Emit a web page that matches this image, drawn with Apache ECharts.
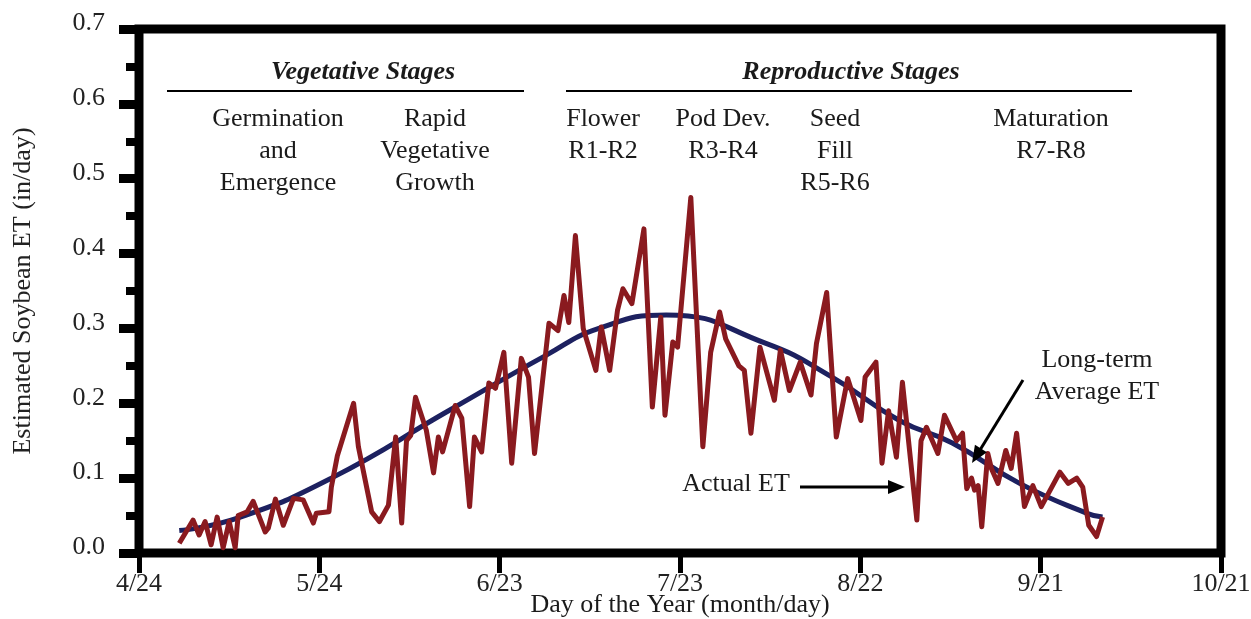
<!DOCTYPE html>
<html>
<head>
<meta charset="utf-8">
<script src="https://cdn.jsdelivr.net/npm/echarts@6/dist/echarts.min.js"></script>
<style>
  html, body { margin: 0; padding: 0; background: #fff; }
  #chart { width: 1251px; height: 619px; }
</style>
</head>
<body>
<div id="chart"></div>
<script>
// x values are days counted from 4/24
let xTickLabels = ['4/24', '5/24', '6/23', '7/23', '8/22', '9/21', '10/21'];

// long-term average ET (in/day)
let avgDays = [6.7, 16.5, 32, 51.5, 67.7, 76.5, 87.7, 104.3, 115.3, 126.5, 135.3, 146.5, 157.7, 160.3];
let avgET   = [0.03, 0.047, 0.10, 0.19, 0.264, 0.30, 0.318, 0.28, 0.235, 0.177, 0.147, 0.093, 0.053, 0.048];

// actual daily ET (in/day)
let actualDays = [
    6.7, 9, 10, 11, 12, 13, 14, 15, 16, 16.5, 18, 19, 21, 21.5, 22.7, 24, 25.7, 27.3, 29, 29.5,
    31.6, 32, 33, 35.7, 36.5, 38.7, 40, 41.5, 42.7, 43.7, 44.5, 45.2, 46, 47.8, 49, 49.8, 50.5,
    52.6, 53.7, 55, 55.8, 57, 58.2, 59.3, 60.7, 62, 63.6, 64.8, 65.8, 68.2, 69.7, 70.7, 71.5,
    72.6, 73.9, 76, 76.9, 78.3, 79.6, 80.5, 82, 84, 85.4, 86.8, 87.5, 88.8, 89.6, 91.8, 93.8,
    95.1, 96.6, 97.6, 99.8, 100.7, 101.8, 103.3, 105.7, 106.7, 108.2, 110, 111.8, 112.7, 114.4,
    116, 117.9, 120.1, 120.8, 122.6, 123.6, 124.7, 126, 127, 129.4, 130.1, 131, 132.9, 134, 136,
    137, 137.7, 138.5, 139, 139.6, 140.2, 141.2, 141.8, 142.9, 144.2, 145.1, 146, 147.3, 148.7,
    150.1, 153.2, 154.6, 156, 157, 158, 159.3, 160.3
];
let actualET = [
    0.013, 0.044, 0.024, 0.042, 0.011, 0.048, 0.007, 0.042, 0.007, 0.05, 0.055, 0.069, 0.028, 0.033, 0.072, 0.037, 0.073, 0.071, 0.04, 0.053,
    0.055, 0.088, 0.13, 0.20, 0.142, 0.055, 0.042, 0.064, 0.155, 0.04, 0.15, 0.157, 0.208, 0.164, 0.107, 0.155, 0.135,
    0.197, 0.18, 0.062, 0.155, 0.135, 0.227, 0.22, 0.268, 0.12, 0.26, 0.235, 0.133, 0.307, 0.297, 0.344, 0.308,
    0.424, 0.30, 0.244, 0.302, 0.244, 0.324, 0.353, 0.333, 0.433, 0.195, 0.315, 0.184, 0.282, 0.275, 0.475, 0.142,
    0.268, 0.322, 0.286, 0.25, 0.244, 0.16, 0.275, 0.204, 0.271, 0.217, 0.255, 0.211, 0.28, 0.348,
    0.155, 0.233, 0.177, 0.235, 0.255, 0.12, 0.19, 0.128, 0.228, 0.044, 0.15, 0.168, 0.133, 0.184, 0.15,
    0.16, 0.086, 0.10, 0.084, 0.09, 0.035, 0.133, 0.113, 0.093, 0.137, 0.113, 0.16, 0.062, 0.09,
    0.062, 0.108, 0.093, 0.10, 0.088, 0.037, 0.022, 0.048
];

let serif = '"Liberation Serif", "Times New Roman", serif';

function pairs(xs, ys) {
    let res = [];
    for (let i = 0; i < xs.length; i++) {
        res.push([xs[i], ys[i]]);
    }
    return res;
}

function label(x, y, text, extra) {
    let style = {
        text: text,
        x: x,
        y: y,
        fill: '#1a1a1a',
        font: '26px ' + serif,
        align: 'center',
        verticalAlign: 'top',
        lineHeight: 32
    };
    return {type: 'text', z: 10, style: Object.assign(style, extra || {})};
}

function line(x1, y1, x2, y2, w) {
    return {type: 'line', z: 10, shape: {x1: x1, y1: y1, x2: x2, y2: y2},
            style: {stroke: '#000', lineWidth: w}};
}

function arrowHead(x, y, angle) {
    // small filled triangle pointing along angle (radians)
    let len = 17, half = 7;
    let bx = x - len * Math.cos(angle), by = y - len * Math.sin(angle);
    let px = -Math.sin(angle) * half, py = Math.cos(angle) * half;
    return {type: 'polygon', z: 10,
            shape: {points: [[x, y], [bx + px, by + py], [bx - px, by - py]]},
            style: {fill: '#000'}};
}

let myChart = echarts.init(document.getElementById('chart'));

let option = {
    animation: false,
    backgroundColor: '#fff',
    grid: {
        left: 139, right: 30, top: 29, bottom: 66,
        outerBoundsMode: 'none',
        containLabel: false,
        show: true,
        borderColor: '#000',
        borderWidth: 9
    },
    xAxis: {
        type: 'value',
        min: 0,
        max: 180,
        interval: 30,
        name: 'Day of the Year (month/day)',
        nameLocation: 'middle',
        nameGap: 39,
        nameMoveOverlap: false,
        nameTextStyle: {fontFamily: serif, fontSize: 26, color: '#1a1a1a'},
        axisLine: {show: false},
        axisTick: {show: true, length: 20, lineStyle: {color: '#000', width: 5}},
        splitLine: {show: false},
        axisLabel: {
            margin: 18,
            fontFamily: serif,
            fontSize: 26,
            color: '#222',
            formatter: function (v) {
                return xTickLabels[Math.round(v / 30)];
            }
        }
    },
    yAxis: {
        type: 'value',
        min: 0,
        max: 0.7,
        interval: 0.1,
        name: 'Estimated Soybean ET (in/day)',
        nameLocation: 'middle',
        nameGap: 103,
        nameMoveOverlap: false,
        nameTextStyle: {fontFamily: serif, fontSize: 26, color: '#222'},
        axisLine: {show: false},
        axisTick: {show: true, length: 20, lineStyle: {color: '#000', width: 9}},
        minorTick: {show: true, splitNumber: 2, length: 13, lineStyle: {color: '#000', width: 8}},
        splitLine: {show: false},
        axisLabel: {
            margin: 34,
            fontFamily: serif,
            fontSize: 26,
            color: '#222',
            verticalAlign: 'bottom',
            lineHeight: 11,
            formatter: function (v) {
                return v.toFixed(1);
            }
        }
    },
    series: [
        {
            name: 'Long-term Average ET',
            type: 'line',
            smooth: true,
            showSymbol: false,
            z: 2,
            lineStyle: {color: '#1d2160', width: 5},
            data: pairs(avgDays, avgET)
        },
        {
            name: 'Actual ET',
            type: 'line',
            showSymbol: false,
            z: 3,
            lineStyle: {color: '#8a1a1f', width: 5, join: 'round'},
            data: pairs(actualDays, actualET)
        }
    ],
    graphic: [
        label(363, 56, 'Vegetative Stages', {font: 'italic bold 26px ' + serif}),
        label(851, 56, 'Reproductive Stages', {font: 'italic bold 26px ' + serif}),
        line(167, 91, 524, 91, 2),
        line(566, 91, 1132, 91, 2),
        label(278, 103, 'Germination\nand\nEmergence'),
        label(435, 103, 'Rapid\nVegetative\nGrowth'),
        label(603, 103, 'Flower\nR1-R2'),
        label(723, 103, 'Pod Dev.\nR3-R4'),
        label(835, 103, 'Seed\nFill\nR5-R6'),
        label(1051, 103, 'Maturation\nR7-R8'),
        label(736, 468, 'Actual ET'),
        line(800, 487, 890, 487, 3),
        arrowHead(905, 487, 0),
        label(1097, 344, 'Long-term\nAverage ET'),
        line(1023, 380, 980, 450, 3),
        arrowHead(972, 463, Math.atan2(463 - 380, 972 - 1023))
    ]
};

myChart.setOption(option);
</script>
</body>
</html>
